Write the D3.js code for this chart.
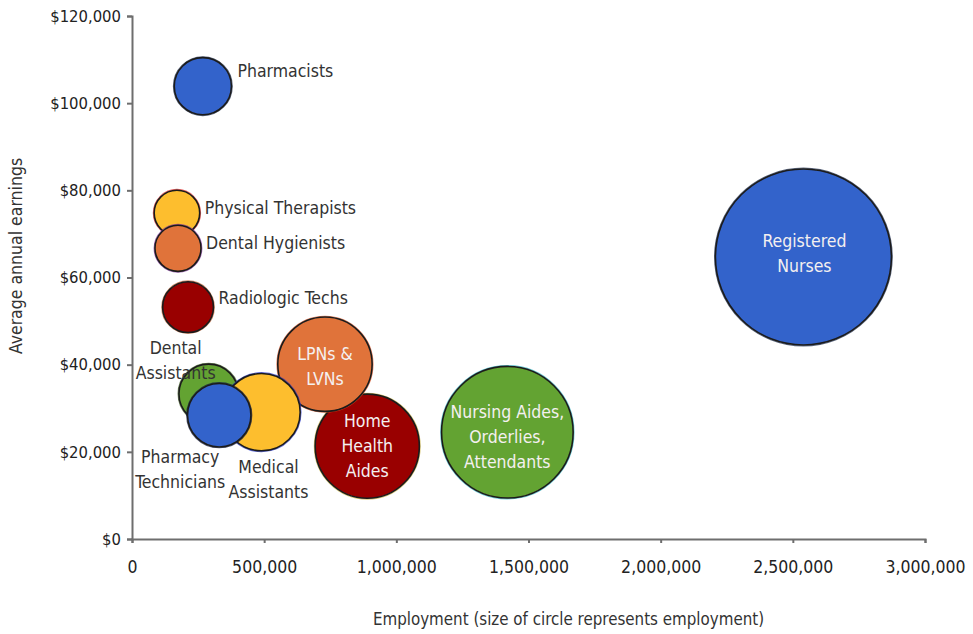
<!DOCTYPE html>
<html>
<head>
<meta charset="utf-8">
<script src="https://cdn.jsdelivr.net/npm/d3@7"></script>
<style>
  html, body { margin: 0; padding: 0; background: #fff; }
  svg { display: block; }
  text { font-family: "Liberation Sans Narrow", "DejaVu Sans Condensed", "Arial Narrow", sans-serif; }
</style>
</head>
<body>
<svg id="chart" width="973" height="634"></svg>
<script>
// ---- data ----
const jobs = [
  "Registered Nurses", "Nursing Aides, Orderlies, Attendants", "Home Health Aides",
  "LPNs & LVNs", "Dental Assistants", "Medical Assistants", "Pharmacy Technicians",
  "Radiologic Techs", "Physical Therapists", "Dental Hygienists", "Pharmacists"
];
const employment = [2540000, 1420000, 890000, 730000, 290000, 490000, 330000, 212000, 170000, 174000, 268000];
const earnings   = [64700, 24500, 21300, 40100, 33300, 29100, 28400, 53200, 74800, 66700, 103900];
const labelLines = [
  ["Registered", "Nurses"], ["Nursing Aides,", "Orderlies,", "Attendants"], ["Home", "Health", "Aides"],
  ["LPNs &", "LVNs"], ["Dental", "Assistants"], ["Medical", "Assistants"], ["Pharmacy", "Technicians"],
  ["Radiologic Techs"], ["Physical Therapists"], ["Dental Hygienists"], ["Pharmacists"]
];
const xTicks = [0, 500000, 1000000, 1500000, 2000000, 2500000, 3000000];
const yTicks = [0, 20000, 40000, 60000, 80000, 100000, 120000];

// ---- styles / layout ----
const fills = ["#3363cb", "#63a332", "#990000", "#e0733a", "#63a332", "#fdbe2e", "#3363cb",
               "#990000", "#fdbe2e", "#e0733a", "#3363cb"];
const rims  = ["#1a2a4a", "#2ab0c0", "#c8b040", "#e05020", "#3a5a20", "#2030d0", "#101840",
               "#c06030", "#e02828", "#8030a0", "#1a2a4a"];
// label layout: mode, dx, dy (pixel offsets from circle centre)
const labelLayout = [
  {mode: "inside", dx: 1, dy: -3},
  {mode: "inside", dx: 0, dy: 6},
  {mode: "inside", dx: 0, dy: 1},
  {mode: "inside", dx: 0, dy: 3},
  {mode: "center", dx: -33, dy: -45},
  {mode: "center", dx: 7, dy: 56},
  {mode: "center", dx: -39, dy: 43},
  {mode: "right", dx: 5, dy: -8},
  {mode: "right", dx: 5, dy: -4},
  {mode: "right", dx: 5, dy: -4},
  {mode: "right", dx: 6, dy: -14}
];
const lineH = 25;
const fontLab = "17.5px";

const svg = d3.select("#chart");
const m = {left: 132, right: 48, top: 16, bottom: 95};
const W = 973, H = 634;

const x = d3.scaleLinear().domain([0, 3000000]).range([m.left, W - m.right]);
const y = d3.scaleLinear().domain([0, 120000]).range([H - m.bottom, m.top]);
const r = d3.scaleSqrt().domain([0, 2540000]).range([0, 88]);

// axes
const xAxis = svg.append("g")
  .attr("transform", `translate(0,${y(0)})`)
  .call(d3.axisBottom(x).tickValues(xTicks).tickSize(4).tickPadding(18)
        .tickFormat(d => d === 0 ? "0" : d3.format(",")(d)));
const yAxis = svg.append("g")
  .attr("transform", `translate(${x(0)},0)`)
  .call(d3.axisLeft(y).tickValues(yTicks).tickSize(5).tickPadding(6)
        .tickFormat(d => "$" + d3.format(",")(d)));
[xAxis, yAxis].forEach(g => {
  g.select(".domain").attr("stroke", "#6e6e6e").attr("stroke-width", 2);
  g.selectAll(".tick line").attr("stroke", "#6e6e6e").attr("stroke-width", 2);
  g.selectAll(".tick text").attr("fill", "#222")
    .style("font-family", '"Liberation Sans Narrow", "DejaVu Sans Condensed", sans-serif');
});
xAxis.selectAll(".tick text").style("font-size", "17.5px");
yAxis.selectAll(".tick text").style("font-size", "16.5px");

// axis titles
svg.append("text")
  .attr("x", (x(0) + x(3000000)) / 2 + 40).attr("y", 620)
  .attr("text-anchor", "middle").attr("dominant-baseline", "middle")
  .attr("fill", "#333").style("font-size", "16.8px")
  .text("Employment (size of circle represents employment)");
svg.append("text")
  .attr("transform", "translate(17,256) rotate(-90)")
  .attr("text-anchor", "middle").attr("dominant-baseline", "middle")
  .attr("fill", "#333").style("font-size", "17.5px")
  .text("Average annual earnings");

// bubbles
const data = jobs.map((j, i) => ({
  job: j, emp: employment[i], earn: earnings[i], lines: labelLines[i],
  fill: fills[i], rim: rims[i], lay: labelLayout[i]
}));

const g = svg.append("g");
const nodes = g.selectAll("g.bubble").data(data).enter().append("g").attr("class", "bubble");
nodes.append("circle")
  .attr("cx", d => x(d.emp)).attr("cy", d => y(d.earn)).attr("r", d => r(d.emp) + 0.8)
  .attr("fill", "none").attr("stroke", d => d.rim).attr("stroke-width", 1.2).attr("stroke-opacity", 0.7);
nodes.append("circle")
  .attr("cx", d => x(d.emp)).attr("cy", d => y(d.earn)).attr("r", d => r(d.emp))
  .attr("fill", d => d.fill).attr("stroke", "#1b1b1b").attr("stroke-width", 1.6);

// labels
data.forEach(d => {
  const cx = x(d.emp), cy = y(d.earn), rad = r(d.emp);
  const L = d.lay;
  let tx, anchor, fill;
  if (L.mode === "right") { tx = cx + rad + L.dx; anchor = "start"; fill = "#333"; }
  else if (L.mode === "inside") { tx = cx + L.dx; anchor = "middle"; fill = "#f4f0f0"; }
  else { tx = cx + L.dx; anchor = "middle"; fill = "#333"; }
  const n = d.lines.length;
  const startY = (L.mode === "center") ? cy + L.dy : cy + L.dy - (n - 1) * lineH / 2;
  const t = g.append("text").attr("text-anchor", anchor).attr("fill", fill)
    .style("font-size", fontLab);
  d.lines.forEach((ln, k) => {
    t.append("tspan").attr("x", tx).attr("y", startY + k * lineH)
      .attr("dominant-baseline", "middle").text(ln);
  });
});
</script>
</body>
</html>
